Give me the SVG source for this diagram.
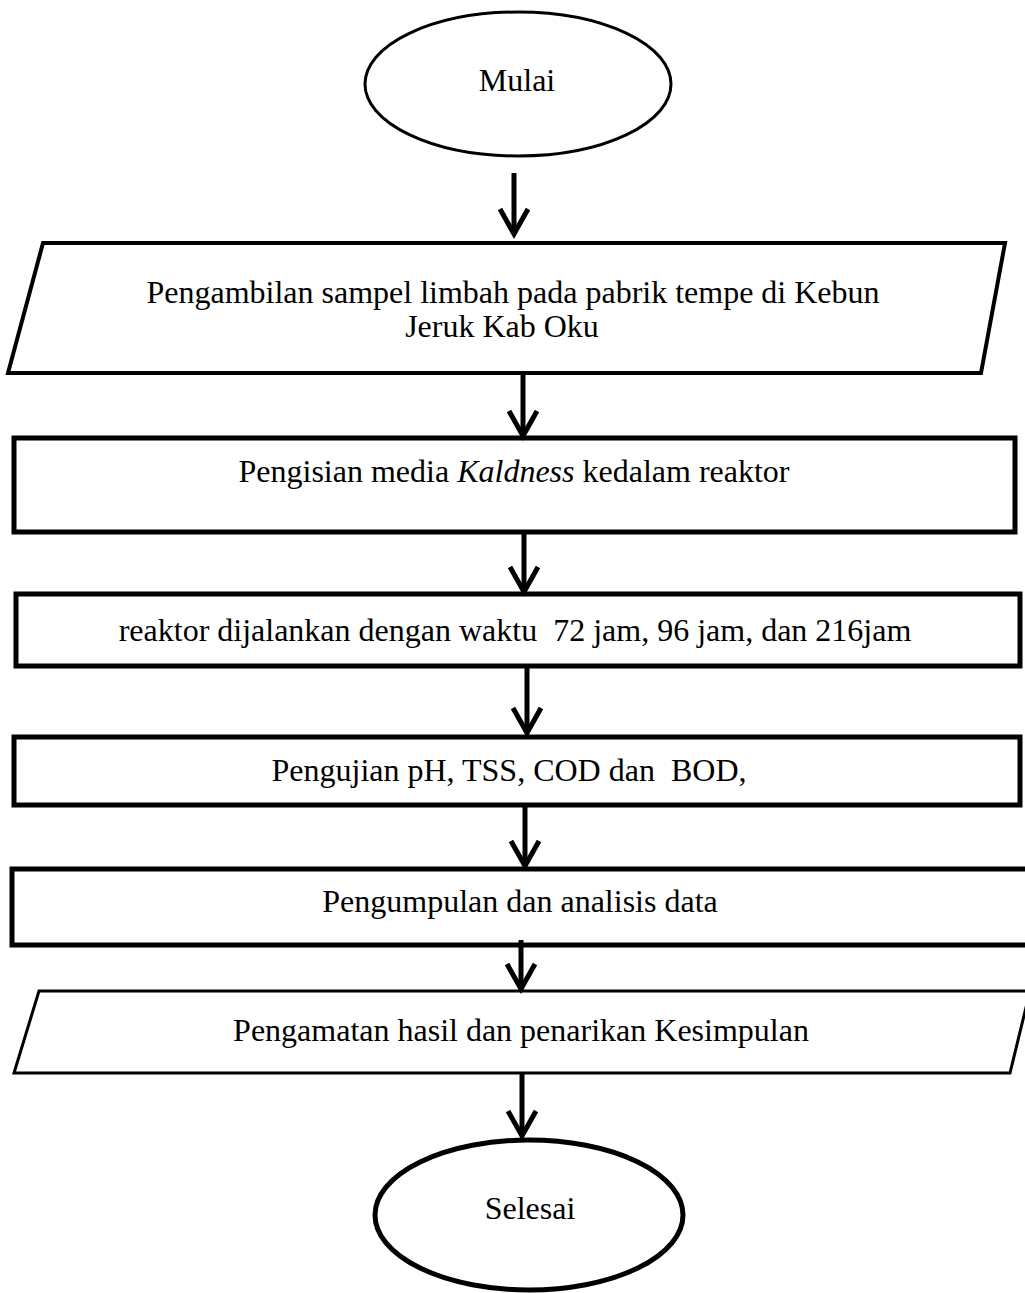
<svg xmlns="http://www.w3.org/2000/svg" width="1025" height="1293" viewBox="0 0 1025 1293">
<style>
.s{fill:#fff;stroke:#000;stroke-linejoin:miter}
.t{font-family:"Liberation Serif","Times New Roman",serif;font-size:32px;fill:#000;text-anchor:middle;white-space:pre}
.c line{stroke:#000;stroke-width:5}
.c polyline{fill:none;stroke:#000;stroke-width:5;stroke-linejoin:miter}
</style>
<rect width="1025" height="1293" fill="#fff"/>
<g id="mulai"><ellipse class="s" cx="518" cy="84" rx="153" ry="72" stroke-width="3"/><text class="t" x="517" y="91">Mulai</text></g>
<g id="pengambilan"><polygon class="s" points="43,243 1005,243 981,373 8,373" stroke-width="4"/><text class="t" x="513" y="303">Pengambilan sampel limbah pada pabrik tempe di Kebun</text><text class="t" x="502" y="337">Jeruk Kab Oku</text></g>
<g id="pengisian"><rect class="s" x="14" y="438" width="1001" height="94" stroke-width="5"/><text class="t" x="514" y="482">Pengisian media <tspan font-style="italic">Kaldness</tspan> kedalam reaktor</text></g>
<g id="reaktor"><rect class="s" x="16" y="594" width="1004" height="72" stroke-width="5"/><text class="t" x="515" y="641" xml:space="preserve">reaktor dijalankan dengan waktu  72 jam, 96 jam, dan 216jam</text></g>
<g id="pengujian"><rect class="s" x="14" y="737" width="1006" height="68" stroke-width="5"/><text class="t" x="509" y="781" xml:space="preserve">Pengujian pH, TSS, COD dan  BOD,</text></g>
<g id="pengumpulan"><rect class="s" x="12" y="869" width="1016" height="76" stroke-width="5"/><text class="t" x="520" y="912">Pengumpulan dan analisis data</text></g>
<g id="pengamatan"><polygon class="s" points="39,991 1030,991 1010,1073 14,1073" stroke-width="3"/><text class="t" x="521" y="1041">Pengamatan hasil dan penarikan Kesimpulan</text></g>
<g id="selesai"><ellipse class="s" cx="529" cy="1215" rx="154" ry="75" stroke-width="5"/><text class="t" x="530" y="1219">Selesai</text></g>
<g id="connectors" class="c">
<line x1="514" y1="173" x2="514" y2="234"/><polyline points="500,209 514,234 528,209"/>
<line x1="523" y1="373" x2="523" y2="436"/><polyline points="509,411 523,436 537,411"/>
<line x1="524" y1="532" x2="524" y2="592"/><polyline points="510,567 524,592 538,567"/>
<line x1="527" y1="666" x2="527" y2="733"/><polyline points="513,708 527,733 541,708"/>
<line x1="525" y1="805" x2="525" y2="866"/><polyline points="511,841 525,866 539,841"/>
<line x1="521" y1="940" x2="521" y2="989"/><polyline points="507,964 521,989 535,964"/>
<line x1="522" y1="1073" x2="522" y2="1136"/><polyline points="508,1111 522,1136 536,1111"/>
</g>
</svg>
